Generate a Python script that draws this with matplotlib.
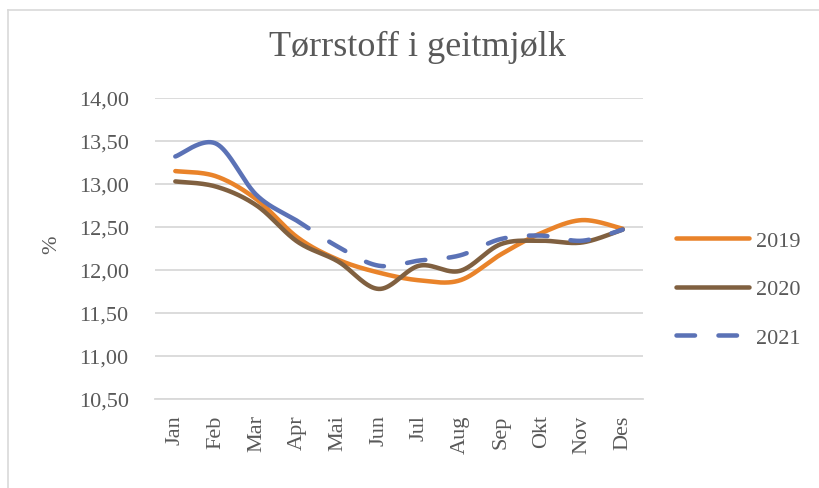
import numpy as np
import matplotlib.pyplot as plt
from matplotlib.lines import Line2D

plt.rcParams['font.family'] = ['Liberation Serif', 'DejaVu Serif']

months = ['Jan', 'Feb', 'Mar', 'Apr', 'Mai', 'Jun', 'Jul', 'Aug', 'Sep', 'Okt', 'Nov', 'Des']
v2019 = [13.15, 13.09, 12.82, 12.38, 12.12, 11.97, 11.88, 11.88, 12.18, 12.43, 12.58, 12.48]
v2020 = [13.03, 12.97, 12.75, 12.33, 12.10, 11.78, 12.05, 11.99, 12.30, 12.34, 12.32, 12.47]
v2021 = [13.32, 13.47, 12.87, 12.57, 12.27, 12.05, 12.11, 12.17, 12.36, 12.40, 12.34, 12.47]
yticks = [10.5, 11.0, 11.5, 12.0, 12.5, 13.0, 13.5, 14.0]

c2019 = '#E9832A'
c2020 = '#806040'
c2021 = '#5B72B6'
txt = '#595959'
grid = '#d9d9d9'


def smooth(vals, n=40):
    # Excel-style smoothed line (Catmull-Rom bezier)
    p = np.column_stack([np.arange(len(vals)), vals]).astype(float)
    pts = np.vstack([p[0], p, p[-1]])
    out = []
    for i in range(1, len(pts) - 2):
        p0, p1, p2, p3 = pts[i - 1], pts[i], pts[i + 1], pts[i + 2]
        c1 = p1 + (p2 - p0) / 6
        c2 = p2 - (p3 - p1) / 6
        t = np.linspace(0, 1, n, endpoint=False)[:, None]
        out.append((1 - t) ** 3 * p1 + 3 * (1 - t) ** 2 * t * c1
                   + 3 * (1 - t) * t ** 2 * c2 + t ** 3 * p2)
    out.append(p[-1:])
    return np.vstack(out)


fig = plt.figure(figsize=(8.19, 4.89), dpi=100)
ax = fig.add_axes([155 / 819, 1 - 400 / 489, 488 / 819, 301 / 489])

lw = 3.25
dash = (4.1, 5.2)

s = smooth(v2019)
ax.plot(s[:, 0], s[:, 1], color=c2019, lw=lw, solid_capstyle='round', zorder=3)
s = smooth(v2020)
ax.plot(s[:, 0], s[:, 1], color=c2020, lw=lw, solid_capstyle='round', zorder=4)
s = smooth(v2021)
split = 3.29
m = s[:, 0] <= split
ax.plot(s[m, 0], s[m, 1], color=c2021, lw=lw, solid_capstyle='round', zorder=5)
ax.plot(s[~m, 0], s[~m, 1], color=c2021, lw=lw, dash_capstyle='round',
        ls=(dash[0], dash), zorder=5)

ax.set_xlim(-0.5, 11.5)
ax.set_ylim(10.5, 14.0)
ax.set_xticks(range(len(months)))
ax.set_xticklabels(months, rotation=90, va='top', ha='center')
ax.set_yticks(yticks)
ax.set_yticklabels([f"{v:.2f}".replace('.', ',') for v in yticks])
ax.tick_params(axis='both', length=0, labelsize=16, colors=txt)
ax.tick_params(axis='y', pad=19)
ax.tick_params(axis='x', pad=11)
ax.yaxis.grid(True, color=grid, lw=1.3)
ax.set_axisbelow(True)
for sp in ['top', 'left', 'right']:
    ax.spines[sp].set_visible(False)
ax.spines['bottom'].set_color(grid)
ax.spines['bottom'].set_linewidth(1.3)

fig.text(417 / 819, 1 - 56 / 489, 'Tørrstoff i geitmjølk', ha='center', va='baseline',
         fontsize=26, color=txt)
fig.text(52 / 819, 1 - 245 / 489, '%', rotation=90, ha='center', va='center',
         fontsize=16, color=txt)

handles = [
    Line2D([], [], color=c2019, lw=lw, solid_capstyle='round'),
    Line2D([], [], color=c2020, lw=lw, solid_capstyle='round'),
    Line2D([], [], color=c2021, lw=lw, dash_capstyle='round', ls=(0, dash)),
]
fig.legend(handles, ['2019', '2020', '2021'], loc='center left',
           bbox_to_anchor=(676 / 819, 1 - 290 / 489), frameon=False,
           fontsize=16, labelcolor=txt, handlelength=3.3, handletextpad=0.3,
           labelspacing=1.25, borderpad=0, borderaxespad=0)

# chart area border
fig.add_artist(Line2D([8 / 819, 1], [1 - 11 / 489] * 2, transform=fig.transFigure,
                      color=grid, lw=1.2))
fig.add_artist(Line2D([8 / 819] * 2, [0, 1 - 11 / 489], transform=fig.transFigure,
                      color=grid, lw=1.2))

fig.savefig('out.png', dpi=100)
